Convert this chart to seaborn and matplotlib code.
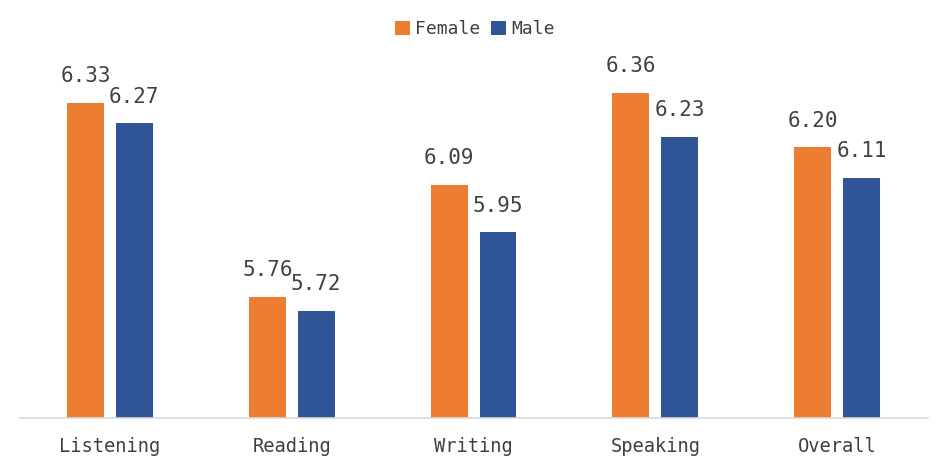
import matplotlib
matplotlib.use("Agg")
import matplotlib.pyplot as plt
import seaborn as sns
import pandas as pd
from matplotlib.patches import Patch

categories = ["Listening", "Reading", "Writing", "Speaking", "Overall"]
female = [6.33, 5.76, 6.09, 6.36, 6.20]
male = [6.27, 5.72, 5.95, 6.23, 6.11]
series = ["Female", "Male"]
colors = ["#ED7D31", "#2F5597"]

df = pd.DataFrame({
    "category": categories * 2,
    "score": female + male,
    "sex": ["Female"] * len(categories) + ["Male"] * len(categories),
})

sns.set_theme(style="white")
plt.rcParams["font.family"] = ["DejaVu Sans Mono", "DejaVu Sans"]

fig = plt.figure(figsize=(9.5, 4.76), dpi=100)
ax = fig.add_axes([0.02, 0.1218, 0.957, 0.819])

sns.barplot(data=df, x="category", y="score", hue="sex", order=categories,
            hue_order=series, palette=colors, width=0.538, gap=0.245,
            ax=ax, legend=False, saturation=1, linewidth=0)

ax.set_ylim(5.404, 6.55)
ax.set_xlim(-0.5, len(categories) - 0.5)

for cont, vals in zip(ax.containers, [female, male]):
    ax.bar_label(cont, labels=[f"{v:.2f}" for v in vals], padding=12,
                 fontsize=15, color="#404040")

ax.set_xlabel("")
ax.set_ylabel("")
ax.set_yticks([])
ax.tick_params(axis="x", length=0, labelsize=13.5, colors="#404040", pad=14)
for s in ["top", "right", "left"]:
    ax.spines[s].set_visible(False)
ax.spines["bottom"].set_color("#D9D9D9")
ax.spines["bottom"].set_linewidth(1.2)

handles = [Patch(facecolor=c, edgecolor="none") for c in colors]
fig.legend(handles, series, loc="center", bbox_to_anchor=(0.5, 0.939), ncol=2,
           frameon=False, fontsize=13, handlelength=0.8, handleheight=0.8,
           handletextpad=0.3, columnspacing=0.6, labelcolor="#404040")

fig.savefig("out.png", dpi=100)
